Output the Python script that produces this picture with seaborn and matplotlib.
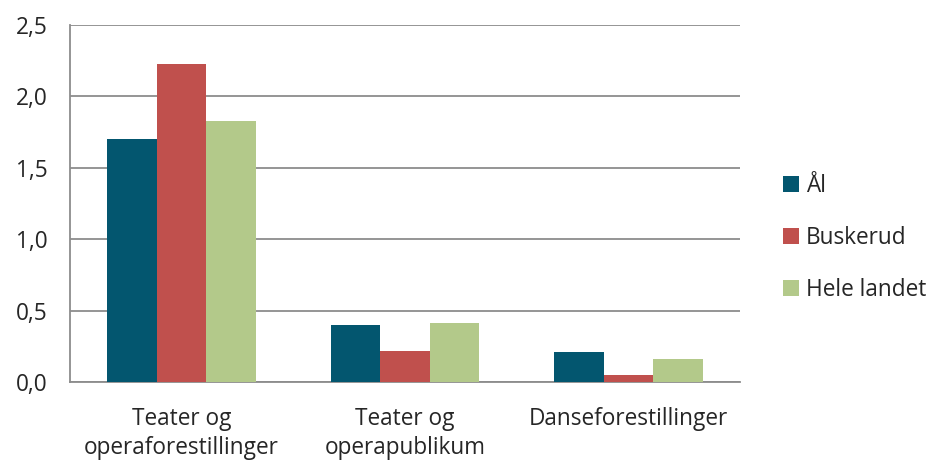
import matplotlib
matplotlib.use("Agg")
import matplotlib.pyplot as plt
import matplotlib.ticker as mticker
from matplotlib.patches import Patch
import seaborn as sns
import pandas as pd

categories = ["Teater og\noperaforestillinger", "Teater og\noperapublikum", "Danseforestillinger"]
series_names = ["Ål", "Buskerud", "Hele landet"]
al_values = [1.70, 0.40, 0.21]
buskerud_values = [2.23, 0.22, 0.05]
hele_values = [1.83, 0.41, 0.16]
colors = ["#03566F", "#C0504D", "#B3C98A"]
y_ticks = [0.0, 0.5, 1.0, 1.5, 2.0, 2.5]

rows = []
for name, vals in zip(series_names, [al_values, buskerud_values, hele_values]):
    for c, v in zip(categories, vals):
        rows.append({"Kategori": c, "Serie": name, "Verdi": v})
df = pd.DataFrame(rows)

sns.set_style("white")
plt.rcParams["font.family"] = ["Open Sans", "DejaVu Sans"]

fig = plt.figure(figsize=(9.3, 4.61), dpi=100)
ax = fig.add_axes([70/930, 79/461, 670/930, 357/461])

sns.barplot(data=df, x="Kategori", y="Verdi", hue="Serie", order=categories,
            hue_order=series_names, palette=colors, saturation=1, width=0.667,
            gap=0, ax=ax, legend=False, linewidth=0, zorder=3)

grid_col = "#8C8C8C"
fs = 16.3
ax.set_ylim(0, 2.5)
ax.set_xlim(-0.5, 2.5)
ax.set_yticks(y_ticks)
ax.yaxis.set_major_formatter(mticker.FuncFormatter(lambda v, p: f"{v:.1f}".replace(".", ",")))
ax.yaxis.grid(True, color=grid_col, linewidth=1.3, zorder=0)
ax.set_axisbelow(True)
ax.set_xlabel("")
ax.set_ylabel("")
for s in ["top", "right"]:
    ax.spines[s].set_visible(False)
for s in ["left", "bottom"]:
    ax.spines[s].set_color(grid_col)
    ax.spines[s].set_linewidth(1.3)

ax.tick_params(axis="y", length=6, color=grid_col, width=1.3, labelsize=fs, pad=10)
ax.tick_params(axis="x", which="major", length=0, labelsize=fs, pad=18)
ax.set_xticks([-0.5, 0.5, 1.5, 2.5], minor=True)
ax.tick_params(axis="x", which="minor", length=6, color=grid_col, width=1.3)
for lab in ax.get_xticklabels():
    lab.set_linespacing(1.3)

handles = [Patch(facecolor=c, edgecolor="none", label=n) for c, n in zip(colors, series_names)]
fig.legend(handles=handles, loc="center left", bbox_to_anchor=(763/930, 1 - 238/461),
           frameon=False, fontsize=fs, handlelength=0.7, handleheight=0.7,
           handletextpad=0.3, labelspacing=1.25)

fig.savefig("out.png", dpi=100)
